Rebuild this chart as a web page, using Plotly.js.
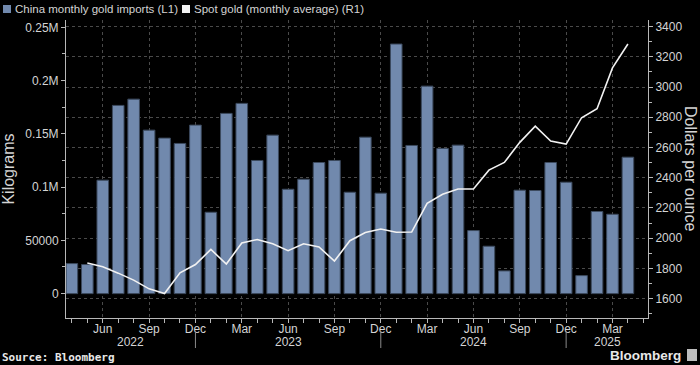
<!DOCTYPE html>
<html><head><meta charset="utf-8">
<script src="https://cdn.plot.ly/plotly-3.0.1.min.js"></script>
<style>html,body{margin:0;padding:0;background:#000;}#chart{width:700px;height:365px;}</style>
</head><body><div id="chart"></div>
<script>
// ---- data ----
const months = ['2022-04','2022-05','2022-06','2022-07','2022-08','2022-09','2022-10','2022-11','2022-12',
  '2023-01','2023-02','2023-03','2023-04','2023-05','2023-06','2023-07','2023-08','2023-09','2023-10','2023-11','2023-12',
  '2024-01','2024-02','2024-03','2024-04','2024-05','2024-06','2024-07','2024-08','2024-09','2024-10','2024-11','2024-12',
  '2025-01','2025-02','2025-03','2025-04'];
const imports = [28200, 27300, 106500, 176700, 182600, 153500, 146000, 141000, 158200,
  76400, 169200, 178600, 125000, 148800, 98000, 107400, 123100, 125000, 95200, 146900, 94300,
  234300, 139100, 194800, 136300, 139400, 59200, 44500, 21300, 97100, 96800, 123100, 104600,
  16900, 77100, 74500, 128100];
const gold = [null, 1835, 1810, 1768, 1722, 1664, 1633, 1770, 1825,
  1925, 1828, 1967, 1991, 1962, 1917, 1962, 1941, 1848, 1983, 2037, 2060,
  2039, 2040, 2230, 2290, 2325, 2325, 2450, 2501, 2634, 2741, 2642, 2622,
  2797, 2856, 3127, 3285];
const monthNames = ['Jan','Feb','Mar','Apr','May','Jun','Jul','Aug','Sep','Oct','Nov','Dec'];
const leftTickVals = [0, 50000, 100000, 150000, 200000, 250000];
const leftTickText = ['0', '50000', '0.1M', '0.15M', '0.2M', '0.25M'];
const seriesNames = ['China monthly gold imports (L1)', 'Spot gold (monthly average) (R1)'];

// ---- derived ticks ----
const idx = months.map((m, i) => i);
const qVals = [], qText = [];
months.forEach((m, i) => { const mo = +m.slice(5); if (mo % 3 === 0) { qVals.push(i); qText.push(monthNames[mo - 1]); } });
const decIdx = months.map((m, i) => m.slice(5) === '12' ? i : -1).filter(i => i >= 0);
const xr = [-0.38, 37.3];
const years = [...new Set(months.map(m => m.slice(0, 4)))];
const bounds = [xr[0], ...decIdx, xr[1]];

// ---- pixel helpers for decoration ----
const L = 66, R = 52, T = 20, B = 47, W = 700 - L - R, H = 365 - T - B;
const px = x => (x - L) / W, py = y => (T + H - y) / H;

const txtCol = '#d4d4d4', font = 'Liberation Sans, Arial, sans-serif';

const traces = [
  { type: 'bar', x: idx, y: imports, name: seriesNames[0], yaxis: 'y', width: 0.75,
    marker: { color: '#7189ad', line: { color: '#3c4a5e', width: 1 } }, hoverinfo: 'y' },
  { type: 'scatter', mode: 'lines', x: idx, y: gold, name: seriesNames[1], yaxis: 'y2',
    line: { color: '#f2f2f2', width: 1.6 }, connectgaps: false }
];

const annotations = [
  { text: seriesNames[0], xref: 'paper', yref: 'paper', x: px(13), y: py(9), xanchor: 'left', yanchor: 'middle', showarrow: false, font: { family: font, size: 11.5, color: txtCol } },
  { text: seriesNames[1], xref: 'paper', yref: 'paper', x: px(192), y: py(9), xanchor: 'left', yanchor: 'middle', showarrow: false, font: { family: font, size: 11.5, color: txtCol } },
  { text: 'Dollars per ounce', xref: 'paper', yref: 'paper', x: px(691), y: py(169), xanchor: 'center', yanchor: 'middle', textangle: 90, showarrow: false, font: { family: font, size: 16, color: txtCol } },
  { text: '<b>Source: Bloomberg</b>', xref: 'paper', yref: 'paper', x: px(0), y: py(357), xanchor: 'left', yanchor: 'middle', showarrow: false, font: { family: 'DejaVu Sans Mono, monospace', size: 11, color: '#e8e8e8' } },
  { text: '<b>Bloomberg</b>', xref: 'paper', yref: 'paper', x: px(683), y: py(355), xanchor: 'right', yanchor: 'middle', showarrow: false, font: { family: font, size: 13.5, color: '#e8e8e8' } }
];
years.forEach((yr, k) => {
  annotations.push({ text: yr, xref: 'x', yref: 'paper', x: (bounds[k] + bounds[k + 1]) / 2, y: py(342), xanchor: 'center', yanchor: 'middle', showarrow: false, font: { family: font, size: 12, color: txtCol } });
});

const shapes = [
  { type: 'rect', xref: 'paper', yref: 'paper', x0: px(3), x1: px(11), y0: py(13), y1: py(5), fillcolor: '#7189ad', line: { width: 0 } },
  { type: 'rect', xref: 'paper', yref: 'paper', x0: px(182), x1: px(190), y0: py(13), y1: py(5), fillcolor: '#f2f2f2', line: { width: 0 } },
  { type: 'rect', xref: 'paper', yref: 'paper', x0: px(687), x1: px(697), y0: py(361), y1: py(349), fillcolor: '#bdbdbd', line: { width: 0 } }
];
decIdx.forEach(i => shapes.push({ type: 'line', xref: 'x', yref: 'paper', x0: i, x1: i, y0: py(331), y1: py(348), line: { color: '#8a8a8a', width: 1 } }));

const layout = {
  width: 700, height: 365, margin: { l: L, r: R, t: T, b: B },
  paper_bgcolor: '#000', plot_bgcolor: '#000', showlegend: false, bargap: 0.25,
  font: { family: font, size: 12, color: txtCol },
  xaxis: { range: xr, tickmode: 'array', tickvals: qVals, ticktext: qText, showgrid: true, gridcolor: '#4a4a4a', griddash: 'dot', gridwidth: 1,
    showline: true, linecolor: '#b8b8b8', ticks: 'outside', ticklen: 4, tickcolor: '#b8b8b8', zeroline: false, ticklabelstandoff: -4,
    minor: { tickmode: 'linear', tick0: 0, dtick: 1, ticks: 'outside', ticklen: 4, tickcolor: '#b8b8b8', showgrid: false },
    tickfont: { family: font, size: 12, color: txtCol } },
  yaxis: { range: [-22900, 256900], tickmode: 'array', tickvals: leftTickVals, ticktext: leftTickText, showgrid: false, zeroline: false,
    showline: true, linecolor: '#b8b8b8', ticks: 'outside', ticklen: 4, tickcolor: '#b8b8b8',
    minor: { tickmode: 'linear', tick0: 0, dtick: 25000, ticks: 'outside', ticklen: 3, tickcolor: '#b8b8b8', showgrid: false },
    tickfont: { family: font, size: 12, color: txtCol },
    title: { text: 'Kilograms', font: { family: font, size: 16, color: txtCol }, standoff: 10 } },
  yaxis2: { overlaying: 'y', side: 'right', range: [1471, 3444], tickmode: 'linear', tick0: 1600, dtick: 200,
    showgrid: true, gridcolor: '#4a4a4a', griddash: 'dot', gridwidth: 1, zeroline: false,
    showline: true, linecolor: '#b8b8b8', ticks: 'outside', ticklen: 4, tickcolor: '#b8b8b8',
    minor: { tickmode: 'linear', tick0: 1600, dtick: 100, ticks: 'outside', ticklen: 3, tickcolor: '#b8b8b8', showgrid: false },
    tickfont: { family: font, size: 12, color: txtCol } },
  annotations: annotations, shapes: shapes
};

Plotly.newPlot('chart', traces, layout, { staticPlot: true, displayModeBar: false });
</script></body></html>
